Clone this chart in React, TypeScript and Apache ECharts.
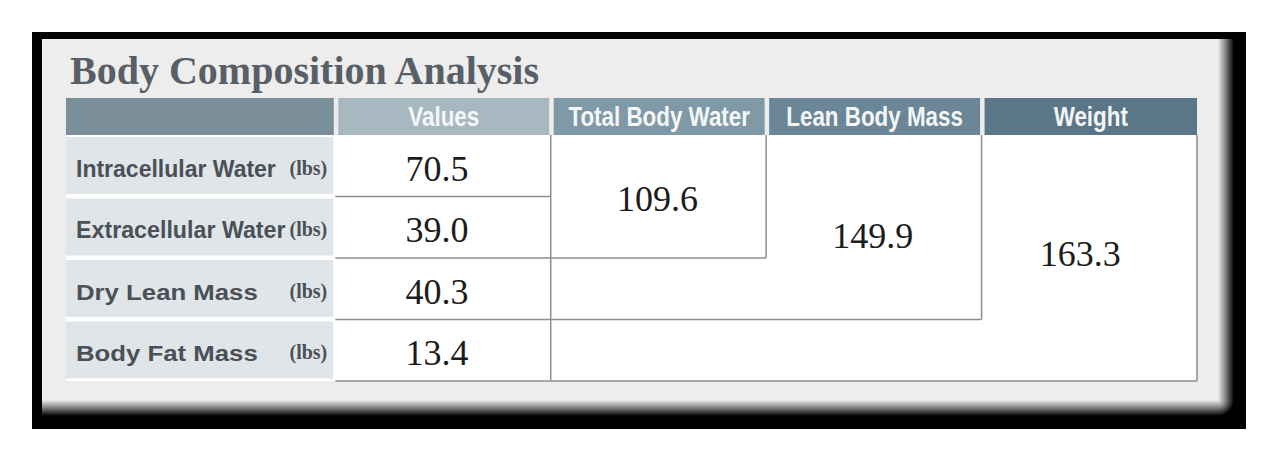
import React, { useEffect, useRef } from "react";
import * as echarts from "echarts";

// ---- data ----
const titleText = "Body Composition Analysis";
const columnHeaders = ["Values", "Total Body Water", "Lean Body Mass", "Weight"];
const rowLabels = ["Intracellular Water", "Extracellular Water", "Dry Lean Mass", "Body Fat Mass"];
const unitLabel = "(lbs)";
const rowValues = [70.5, 39.0, 40.3, 13.4];
// Total Body Water (rows 1-2), Lean Body Mass (rows 1-3), Weight (rows 1-4)
const totalValues = [109.6, 149.9, 163.3];

// ---- layout / style ----
const LABEL_SPAN = 1.25; // label column width, in value-column units
const HEADER_SPAN = 0.6; // header height, in row units
const headerColors = ["#7b8f9a", "#a8b8c1", "#8099a7", "#6b8697", "#5a7687"];
const labelStretch = [1, 1.01, 1.12, 1.12];
const valueNudge = [-6, 3];
const totalNudge = [[-1, 3], [-1, 9], [-9, -4]];
const LINE = "#8e8e8e";
const PANEL = "#ededed";

export default function App() {
  const ref = useRef<HTMLDivElement>(null);

  useEffect(() => {
    const chart = echarts.init(ref.current!, null, { renderer: "svg" });
    const nCols = columnHeaders.length;
    const nRows = rowLabels.length;
    const lineStyle = { stroke: LINE, lineWidth: 1.5 };
    const seg = (a: number[], b: number[]) => ({
      type: "line",
      shape: { x1: a[0], y1: a[1], x2: b[0], y2: b[1] },
      style: lineStyle,
    });
    const numFont = '36px "Liberation Serif", "Times New Roman", serif';

    const option: any = {
      animation: false,
      backgroundColor: "#ffffff",
      grid: { left: 66, right: 83, top: 98, bottom: 76, show: false },
      xAxis: { type: "value", min: -LABEL_SPAN, max: nCols, show: false },
      yAxis: { type: "value", min: -HEADER_SPAN, max: nRows, inverse: true, show: false },
      graphic: [
        { type: "rect", z: 0, shape: { x: 32, y: 32, width: 1214, height: 397 }, style: { fill: "#000000" } },
        { type: "rect", z: 0, shape: { x: 42, y: 39, width: 1176, height: 361 }, style: { fill: PANEL } },
        {
          type: "rect", z: 0,
          shape: { x: 1218, y: 39, width: 16, height: 361 },
          style: {
            fill: new echarts.graphic.LinearGradient(0, 0, 1, 0, [
              { offset: 0, color: PANEL },
              { offset: 0.45, color: "#888888" },
              { offset: 1, color: "#000000" },
            ]),
          },
        },
        {
          type: "rect", z: 0,
          shape: { x: 42, y: 400, width: 1176, height: 16 },
          style: {
            fill: new echarts.graphic.LinearGradient(0, 0, 0, 1, [
              { offset: 0, color: PANEL },
              { offset: 0.45, color: "#888888" },
              { offset: 1, color: "#000000" },
            ]),
          },
        },
        {
          type: "rect", z: 0,
          shape: { x: 1218, y: 400, width: 16, height: 16 },
          style: {
            fill: new echarts.graphic.RadialGradient(0, 0, 1, [
              { offset: 0, color: PANEL },
              { offset: 0.45, color: "#888888" },
              { offset: 1, color: "#000000" },
            ]),
          },
        },
        {
          type: "text", z: 1,
          x: 70, y: 70,
          style: {
            text: titleText,
            font: 'bold 40px "Liberation Serif", "Times New Roman", serif',
            fill: "#595f66",
            align: "left",
            verticalAlign: "middle",
          },
        },
      ],
      series: [
        {
          type: "custom",
          name: "background",
          silent: true,
          data: [[0, 0]],
          renderItem: (_p: any, api: any) => {
            const p0 = api.coord([-LABEL_SPAN, 0]);
            const p1 = api.coord([nCols, nRows]);
            return {
              type: "rect",
              shape: { x: p0[0], y: p0[1], width: p1[0] - p0[0], height: p1[1] - p0[1] },
              style: { fill: "#ffffff" },
            };
          },
        },
        {
          type: "custom",
          name: "headers",
          silent: true,
          data: [-1, ...columnHeaders.map((_, i) => i)].map((c) => [c, 0]),
          renderItem: (_p: any, api: any) => {
            const c = api.value(0) as number;
            const isLabelCol = c < 0;
            const p0 = api.coord([isLabelCol ? -LABEL_SPAN : c, -HEADER_SPAN]);
            const p1 = api.coord([isLabelCol ? 0 : c + 1, 0]);
            const left = p0[0] + (isLabelCol ? 0 : 3);
            const right = p1[0] - (c === nCols - 1 ? 0 : 1.5);
            const children: any[] = [
              {
                type: "rect",
                shape: { x: left, y: p0[1], width: right - left, height: p1[1] - p0[1] },
                style: { fill: headerColors[c + 1] },
              },
            ];
            if (!isLabelCol) {
              children.push({
                type: "text",
                x: (left + right) / 2,
                y: (p0[1] + p1[1]) / 2,
                scaleX: 0.8,
                style: {
                  text: columnHeaders[c],
                  x: 0,
                  y: 0,
                  font: 'bold 28px "Liberation Sans", Arial, sans-serif',
                  fill: "#f4f7f8",
                  align: "center",
                  verticalAlign: "middle",
                },
              });
            }
            return { type: "group", children };
          },
        },
        {
          type: "custom",
          name: "labels",
          silent: true,
          data: rowLabels.map((_, i) => [-LABEL_SPAN, i]),
          renderItem: (params: any, api: any) => {
            const i = params.dataIndex as number;
            const p0 = api.coord([-LABEL_SPAN, i]);
            const p1 = api.coord([0, i + 1]);
            const top = p0[1] + 2;
            const bottom = p1[1] - 2.5;
            const cy = (p0[1] + p1[1]) / 2 + 3;
            return {
              type: "group",
              children: [
                {
                  type: "rect",
                  shape: { x: p0[0], y: top, width: p1[0] - 2 - p0[0], height: bottom - top },
                  style: { fill: "#dfe5e8" },
                },
                {
                  type: "text",
                  x: p0[0] + 10,
                  y: cy,
                  scaleX: labelStretch[i],
                  style: {
                    text: rowLabels[i],
                    x: 0,
                    y: 0,
                    font: 'bold 23px "Liberation Sans", Arial, sans-serif',
                    fill: "#4b5056",
                    align: "left",
                    verticalAlign: "middle",
                  },
                },
                {
                  type: "text",
                  x: p1[0] - 8,
                  y: cy - 1,
                  style: {
                    text: unitLabel,
                    x: 0,
                    y: 0,
                    font: 'bold 20px "Liberation Serif", "Times New Roman", serif',
                    fill: "#4b5056",
                    align: "right",
                    verticalAlign: "middle",
                  },
                },
              ],
            };
          },
        },
        {
          type: "custom",
          name: "values",
          silent: true,
          data: rowValues.map((v, i) => [0.5, i, v]),
          renderItem: (params: any, api: any) => {
            const i = params.dataIndex as number;
            const v = api.value(2) as number;
            const c = api.coord([0.5, i + 0.5]);
            return {
              type: "group",
              children: [
                seg(api.coord([0, i + 1]), api.coord([1, i + 1])),
                seg(api.coord([1, i]), api.coord([1, i + 1])),
                {
                  type: "text",
                  x: c[0] + valueNudge[0],
                  y: c[1] + valueNudge[1],
                  style: {
                    text: v.toFixed(1),
                    x: 0,
                    y: 0,
                    font: numFont,
                    fill: "#1c1c1c",
                    align: "center",
                    verticalAlign: "middle",
                  },
                },
              ],
            };
          },
        },
        {
          type: "custom",
          name: "totals",
          silent: true,
          data: totalValues.map((v, k) => [k + 1, k + 2, v]),
          renderItem: (params: any, api: any) => {
            const k = params.dataIndex as number;
            const col = api.value(0) as number;
            const span = api.value(1) as number;
            const v = api.value(2) as number;
            const c = api.coord([col + 0.5, span / 2]);
            return {
              type: "group",
              children: [
                seg(api.coord([col + 1, 0]), api.coord([col + 1, span])),
                seg(api.coord([1, span]), api.coord([col + 1, span])),
                {
                  type: "text",
                  x: c[0] + totalNudge[k][0],
                  y: c[1] + totalNudge[k][1],
                  style: {
                    text: v.toFixed(1),
                    x: 0,
                    y: 0,
                    font: numFont,
                    fill: "#1c1c1c",
                    align: "center",
                    verticalAlign: "middle",
                  },
                },
              ],
            };
          },
        },
      ],
    };

    chart.setOption(option);
    return () => chart.dispose();
  }, []);

  return (
    <div
      ref={ref}
      style={{ position: "fixed", left: 0, top: 0, width: 1280, height: 457 }}
    />
  );
}
